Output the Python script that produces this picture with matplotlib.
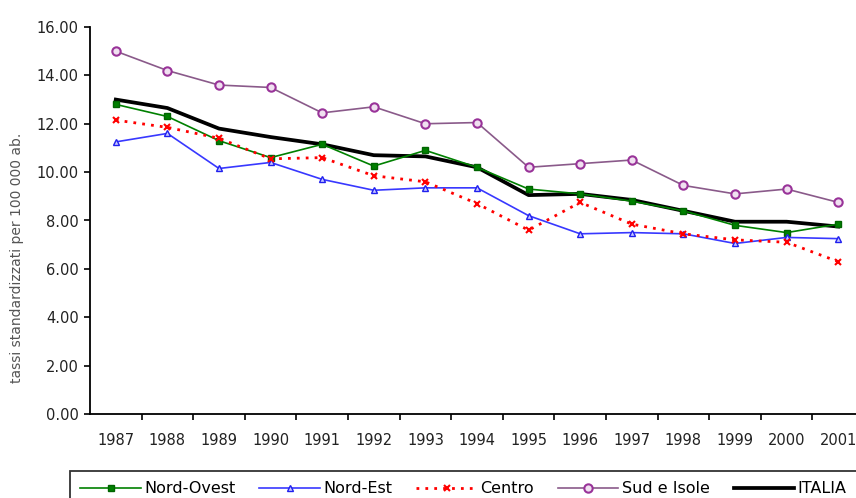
import matplotlib
matplotlib.use("Agg")
import matplotlib.pyplot as plt
import numpy as np

years = ["1987", "1988", "1989", "1990", "1991", "1992", "1993", "1994",
         "1995", "1996", "1997", "1998", "1999", "2000", "2001"]

nord_ovest = [12.8, 12.3, 11.3, 10.6, 11.15, 10.25, 10.9, 10.2, 9.3, 9.1, 8.8, 8.4, 7.8, 7.5, 7.85]
nord_est = [11.25, 11.6, 10.15, 10.4, 9.7, 9.25, 9.35, 9.35, 8.2, 7.45, 7.5, 7.45, 7.05, 7.3, 7.25]
centro = [12.15, 11.85, 11.4, 10.55, 10.6, 9.85, 9.6, 8.7, 7.6, 8.75, 7.85, 7.45, 7.2, 7.1, 6.3]
sud_isole = [15.0, 14.2, 13.6, 13.5, 12.45, 12.7, 12.0, 12.05, 10.2, 10.35, 10.5, 9.45, 9.1, 9.3, 8.75]
italia = [13.0, 12.65, 11.8, 11.45, 11.15, 10.7, 10.65, 10.2, 9.05, 9.1, 8.85, 8.4, 7.95, 7.95, 7.75]

yticks = [0, 2, 4, 6, 8, 10, 12, 14, 16]
ylabel = "tassi standardizzati per 100 000 ab."

plt.rcParams['font.family'] = ['DejaVu Sans']

W, H = 856, 498
fig = plt.figure(figsize=(W / 100, H / 100), dpi=100)
ax_left, ax_right, ax_top, ax_bottom = 90, 864, 27, 414
ax = fig.add_axes([ax_left / W, 1 - ax_bottom / H, (ax_right - ax_left) / W, (ax_bottom - ax_top) / H])

x = np.arange(len(years))

ax.plot(x, nord_ovest, color='#008000', lw=1.2, marker='s', ms=5, mfc='#008000', mec='#006400',
        label='Nord-Ovest', zorder=3)
ax.plot(x, nord_est, color='#3838ff', lw=1.2, marker='^', ms=5, mfc='#c8c8ff', mec='#2020ee',
        label='Nord-Est', zorder=3)
ax.plot(x, centro, color='#ff0000', lw=2, ls=(0, (1, 2.2)), marker='x', ms=5, mew=1.5,
        label='Centro', zorder=3)
ax.plot(x, sud_isole, color='#8a5a8a', lw=1.2, marker='o', ms=6, mfc='#f0e0f0', mec='#993399',
        mew=1.5, label='Sud e Isole', zorder=3)
ax.plot(x, italia, color='black', lw=2.7, label='ITALIA', zorder=2.5)

ax.set_xlim(-0.5, len(years) - 0.5)
ax.set_ylim(0, 16)
ax.set_yticks(yticks)
ax.set_yticklabels([f"{v:.2f}" for v in yticks])

ax.set_xticks(np.arange(0.5, len(years) - 0.5, 1.0))
ax.set_xticklabels([])
ax.set_xticks(x, minor=True)
ax.set_xticklabels(years, minor=True)
ax.tick_params(axis='x', which='major', direction='out', length=4, width=1.2, color='black')
ax.tick_params(axis='x', which='minor', length=0, pad=14, labelsize=10.5, labelcolor='#222222')
ax.tick_params(axis='y', direction='out', length=4, width=1.2, pad=4, labelsize=10.5, labelcolor='#222222')

for s in ['top', 'right']:
    ax.spines[s].set_visible(False)
for s in ['left', 'bottom']:
    ax.spines[s].set_linewidth(1.3)
    ax.spines[s].set_color('black')

ax.set_ylabel(ylabel, fontsize=10, color='#555555')
ax.yaxis.set_label_coords(-(ax_left - 17) / (ax_right - ax_left), (ax_bottom - 258) / (ax_bottom - ax_top))
ax.yaxis.label.set_verticalalignment('center')

handles, labels = ax.get_legend_handles_labels()
leg = fig.legend(handles, labels, loc='upper left', bbox_to_anchor=(70 / W, 1 - 471 / H),
                 ncol=5, fontsize=11.5, frameon=True, fancybox=False, edgecolor='black',
                 borderpad=0.65, handlelength=3.8, handletextpad=0.2, columnspacing=1.5,
                 borderaxespad=0)
leg.get_frame().set_linewidth(1.3)

fig.savefig("out.png", dpi=100)
